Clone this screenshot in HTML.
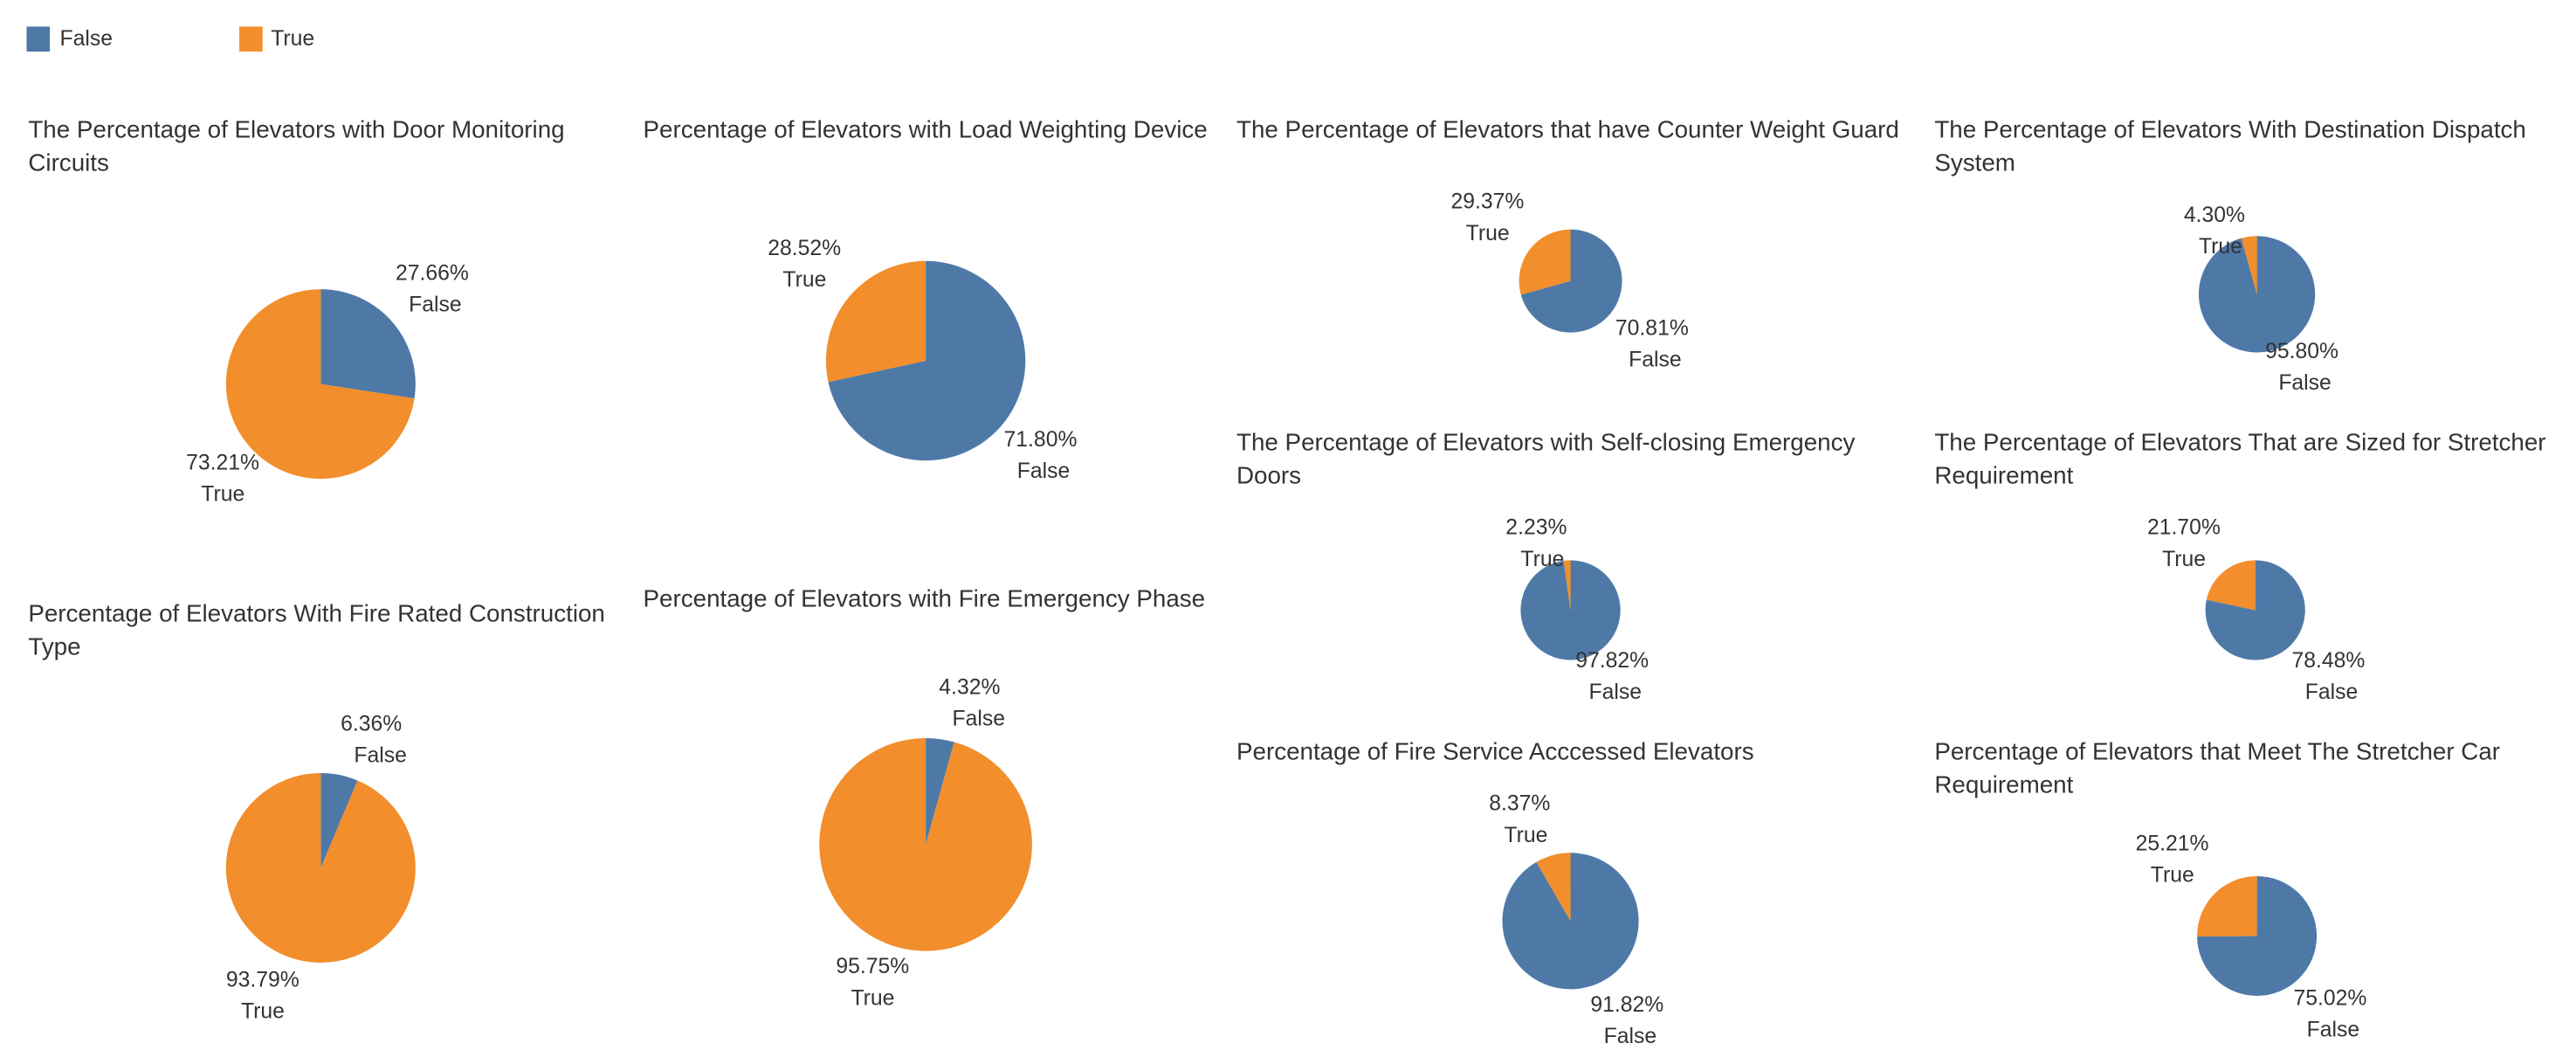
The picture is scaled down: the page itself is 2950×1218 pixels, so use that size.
<!DOCTYPE html>
<html><head><meta charset="utf-8"><style>
html,body{margin:0;padding:0;background:#fff;}
svg{display:block;}
text{font-family:"Liberation Sans",sans-serif;fill:#333;}
</style></head><body>
<svg id="chart" width="2950" height="1218" viewBox="0 0 1550 640" preserveAspectRatio="none" xmlns="http://www.w3.org/2000/svg">
<g>
<rect x="16" y="16" width="14" height="15" fill="#4e79a7"/>
<text x="36" y="24" font-size="13" dominant-baseline="middle" fill="#555">False</text>
<rect x="144" y="16" width="14" height="15" fill="#f28e2b"/>
<text x="163" y="24" font-size="13" dominant-baseline="middle" fill="#555">True</text>
</g>
</svg>
<script>
const titles = [
 ["The Percentage of Elevators with Door Monitoring","Circuits"],
 ["Percentage of Elevators with Load Weighting Device"],
 ["Percentage of Elevators With Fire Rated Construction","Type"],
 ["Percentage of Elevators with Fire Emergency Phase"],
 ["The Percentage of Elevators that have Counter Weight Guard"],
 ["The Percentage of Elevators With Destination Dispatch","System"],
 ["The Percentage of Elevators with Self-closing Emergency","Doors"],
 ["The Percentage of Elevators That are Sized for Stretcher","Requirement"],
 ["Percentage of Fire Service Acccessed Elevators"],
 ["Percentage of Elevators that Meet The Stretcher Car","Requirement"]
];
const falseValues = [27.66, 71.80, 6.36, 4.32, 70.81, 95.80, 97.82, 78.48, 91.82, 75.02];
const trueValues  = [73.21, 28.52, 93.79, 95.75, 29.37, 4.30, 2.23, 21.70, 8.37, 25.21];

// layout (positions, not data)
const layout = [
 {tx:17,ty:79,cx:193,cy:231,r:57,fl:[238,165],tl:[112,279]},
 {tx:387,ty:79,cx:557,cy:217,r:60,fl:[604,265],tl:[462,150]},
 {tx:17,ty:370,cx:193,cy:522,r:57,fl:[205,436],tl:[136,590]},
 {tx:387,ty:361,cx:557,cy:508,r:64,fl:[565,414],tl:[503,582]},
 {tx:744,ty:79,cx:945,cy:169,r:31,fl:[972,198],tl:[873,122]},
 {tx:1164,ty:79,cx:1358,cy:177,r:35,fl:[1363,212],tl:[1314,130]},
 {tx:744,ty:267,cx:945,cy:367,r:30,fl:[948,398],tl:[906,318]},
 {tx:1164,ty:267,cx:1357,cy:367,r:30,fl:[1379,398],tl:[1292,318]},
 {tx:744,ty:453,cx:945,cy:554,r:41,fl:[957,605],tl:[896,484]},
 {tx:1164,ty:453,cx:1358,cy:563,r:36,fl:[1380,601],tl:[1285,508]}
];
const NS="http://www.w3.org/2000/svg";
const svg=document.getElementById('chart');
function mk(tag,attrs){const e=document.createElementNS(NS,tag);for(const k in attrs)e.setAttribute(k,attrs[k]);return e;}
function pt(cx,cy,r,frac){const a=frac*2*Math.PI;return [cx+r*Math.sin(a),cy-r*Math.cos(a)];}
function slice(cx,cy,r,f0,f1){
 if(f1-f0>=0.9999) return `M${cx} ${cy-r}A${r} ${r} 0 1 1 ${cx-0.01} ${cy-r}Z`;
 const p0=pt(cx,cy,r,f0),p1=pt(cx,cy,r,f1);const large=(f1-f0)>0.5?1:0;
 return `M${cx} ${cy}L${p0[0]} ${p0[1]}A${r} ${r} 0 ${large} 1 ${p1[0]} ${p1[1]}Z`;
}
function label(x,y,pct,cat,name){
 const t1=mk('text',{x:x,y:y,'font-size':13,'dominant-baseline':'middle'});
 
 
 t1.textContent=pct.toFixed(2)+'%';svg.appendChild(t1);
 const t2=mk('text',{x:x+(cat==='True'?9:8),y:y+19,'font-size':13,'dominant-baseline':'middle'});
 
 
 t2.textContent=cat;svg.appendChild(t2);
}
titles.forEach((lines,i)=>{
 const L=layout[i];
 const g=mk('g',{});
 
 
 svg.appendChild(g);
 lines.forEach((ln,j)=>{
  const t=mk('text',{x:L.tx,y:L.ty+j*20,'font-size':14.6,'dominant-baseline':'middle'});
  
  
  t.textContent=ln;g.appendChild(t);
 });
 const tot=falseValues[i]+trueValues[i];
 const ff=falseValues[i]/tot;
 const s1=mk('path',{d:slice(L.cx,L.cy,L.r,0,ff),fill:'#4e79a7'});
 
 
 g.appendChild(s1);
 const s2=mk('path',{d:slice(L.cx,L.cy,L.r,ff,1),fill:'#f28e2b'});
 
 
 g.appendChild(s2);
 label(L.fl[0],L.fl[1],falseValues[i],'False','false-label-'+(i+1));
 label(L.tl[0],L.tl[1],trueValues[i],'True','true-label-'+(i+1));
});
</script>
</body></html>
